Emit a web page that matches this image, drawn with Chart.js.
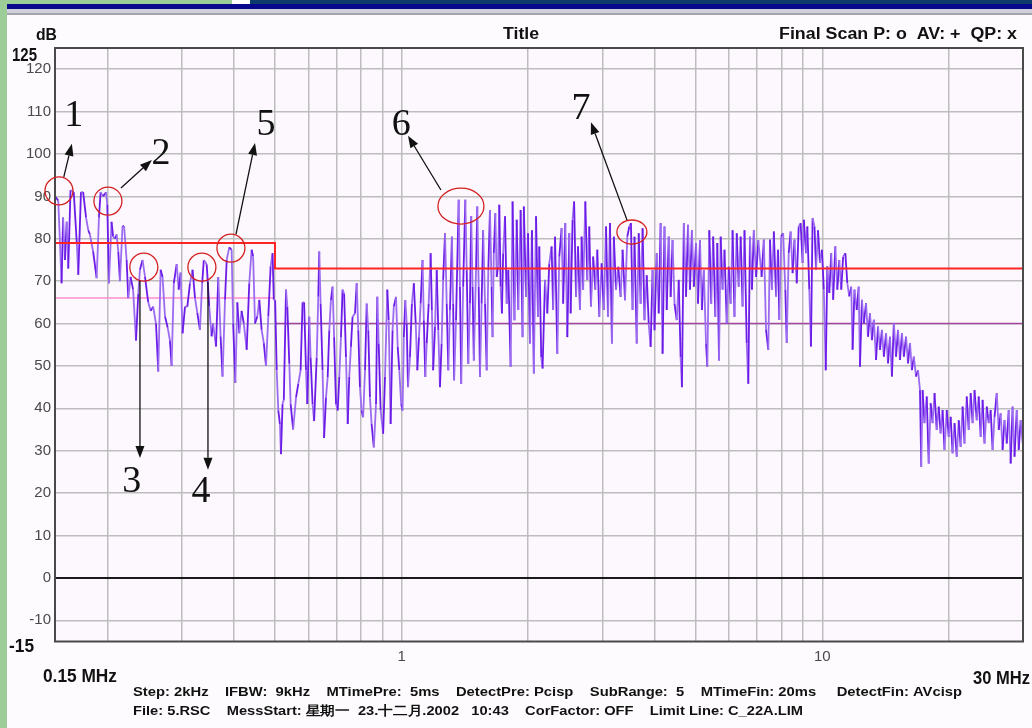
<!DOCTYPE html>
<html>
<head>
<meta charset="utf-8">
<title>Final Scan</title>
<script src="https://cdn.jsdelivr.net/npm/chart.js@4/dist/chart.umd.min.js"></script>
<style>
  html, body { margin: 0; padding: 0; background: #fdfbfd; }
  #scan { display: block; }
</style>
</head>
<body>
<canvas id="scan" width="1032" height="728"></canvas>
<script>
const freqBand1 = [0.1500,0.1527,0.1555,0.1568,0.1584,0.1599,0.1613,0.1633,0.1662,0.1690,0.1704,0.1729,0.1750,0.1778,0.1800,0.1816,0.1848,0.1884,0.1908,0.1925,
  0.1952,0.1983,0.1997,0.2015,0.2044,0.2062,0.2083,0.2102,0.2121,0.2140,0.2171,0.2189,0.2220,0.2240,0.2269,0.2300,0.2337,0.2366,0.2388,0.2422,
  0.2455,0.2499,0.2532,0.2567,0.2607,0.2640,0.2674,0.2702,0.2739,0.2780,0.2814,0.2840,0.2874,0.2920,0.2952,0.2983,0.3015,0.3056,0.3095,0.3140,
  0.3185,0.3228,0.3269,0.3316,0.3357,0.3387,0.3441,0.3489,0.3534,0.3564,0.3621,0.3666,0.3713,0.3753,0.3804,0.3839,0.3894,0.3944,0.3977,0.4025,
  0.4069,0.4113,0.4165,0.4216,0.4283,0.4344,0.4400,0.4437,0.4483,0.4540,0.4589,0.4648,0.4704,0.4761,0.4821,0.4883,0.4935,0.4968];
const levelBand1 = [90,89,69.5,85,75,84,73,91.5,91,79,71.5,91,91,85,82,81,77,70.7,85,91,
  90,91,88,69.5,84,80.5,80,81,77,70,83,83,75,66,71,68,56,67,72.7,75,
  71,65,63,64,60,48.7,72.7,71,61.7,59,56,50,69.5,74,68,72,57.7,64,64,69.5,
  72.7,66,62.5,58.5,69.5,75,74,64,57,60,54.6,71,57,47.5,65.6,75,78,77.4,60,46,
  65,57.7,63,60,53.8,69.5,77.4,75.8,60,61.7,65.6,58.5,55.4,50,61.7,73.5,76.6,65.6];

const freqBand2 = [0.5005,0.5048,0.5092,0.5138,0.5166,0.5212,0.5248,0.5312,0.5350,0.5408,0.5448,0.5523,0.5611,0.5681,0.5754,0.5815,0.5865,0.5926,0.5968,0.6033,
  0.6078,0.6143,0.6195,0.6283,0.6338,0.6372,0.6419,0.6488,0.6542,0.6612,0.6673,0.6731,0.6792,0.6854,0.6911,0.6984,0.7049,0.7110,0.7175,0.7239,
  0.7300,0.7376,0.7445,0.7509,0.7577,0.7646,0.7749,0.7821,0.7889,0.7961,0.8033,0.8102,0.8185,0.8261,0.8333,0.8409,0.8485,0.8589,0.8694,0.8755,
  0.8822,0.8916,0.9039,0.9132,0.9247,0.9317,0.9417,0.9517,0.9582,0.9699,0.9789,0.9874,0.9979,1.0053,1.0122,1.0205,1.0284,1.0356,1.0468,1.0580,
  1.0691,1.0803,1.0898,1.0998,1.1098,1.1216,1.1293,1.1385,1.1473,1.1598,1.1722,1.1803,1.1884,1.2007,1.2119,1.2224,1.2336,1.2448,1.2553,1.2683,
  1.2801,1.2913,1.3031,1.3170,1.3260,1.3330,1.3470,1.3668,1.3763,1.3858,1.4006,1.4173,1.4282,1.4406,1.4538,1.4638,1.4747,1.4848,1.5028,1.5134,
  1.5249,1.5355,1.5495,1.5626,1.5787,1.5934,1.6073,1.6220,1.6366,1.6453,1.6565,1.6702,1.6830,1.6948,1.7069,1.7195,1.7315,1.7434,1.7613,1.7777,
  1.7932];
const levelBand2 = [65.5,49,39.5,36.3,29.2,41,42,68,64,50.5,41,35,42.6,45.8,49,65,65,49,41,61.6,
  52,41,37,52,66.3,77,64.7,49,33,42.6,47.4,58.4,65.5,68.7,56.8,41,39.5,47.4,56.8,68,
  67,52,36.3,47.4,54.5,61.6,62.4,69.5,58.4,45,39.5,37.9,49,64.7,58.4,42.6,36.3,30.8,41,66.3,
  55.3,39.5,34,47.4,68,60.8,36.3,58.4,64,66.3,54.5,49,41,39.5,56.8,65.5,60,45,52,64.7,
  69.5,60,49,56.8,64.7,75,60.8,47.4,55.3,64.7,76.6,63.2,49,59.2,72.6,58.4,45,55.3,70.3,81.3,
  64.7,49,63.2,80.5,64.7,46.6,60.8,89.2,68.7,45.8,68.7,89.2,72.6,50.5,64.7,85.3,68.7,51.3,72.6,87.6,
  68.7,47.4,64.7,82,64.7,49,72.6,86.8,68.7,56.8,76.6,86,71,73.4,88,68.7,62.4,76.6,85.3,64.7,
  72.6];

const freqBand3 = [1.8163,1.8356,1.8550,1.8777,1.8941,1.9184,1.9389,1.9521,1.9759,1.9973,2.0189,2.0406,2.0620,2.0871,2.1097,2.1247,2.1473,2.1633,2.1924,2.2200,
  2.2441,2.2729,2.2922,2.3158,2.3450,2.3705,2.4008,2.4212,2.4500,2.4769,2.5038,2.5224,2.5493,2.5709,2.5979,2.6261,2.6545,2.6785,2.7013,2.7335,
  2.7635,2.7935,2.8189,2.8533,2.8872,2.9189,2.9506,2.9884,3.0247,3.0615,3.0947,3.1282,3.1617,3.1949,3.2338,3.2743,3.3164,3.3518,3.3971,3.4399,
  3.4773,3.5089,3.5405,3.5778,3.6216,3.6610,3.7002,3.7396,3.7791,3.8253,3.8670,3.9083,3.9500,3.9917,4.0405,4.0846,4.1282,4.1722,4.2163,4.2679,
  4.3144,4.3605,4.4070,4.4536,4.5080,4.5572,4.6059,4.6380,4.6867,4.7437,4.7952,4.8471,4.8990,4.9504,5.0106,5.0649,5.1197,5.1746,5.2289,5.2926,
  5.3299,5.3878,5.4452,5.5031,5.5686,5.6298,5.6815,5.7332,5.7943,5.8555,5.9271,5.9917,6.0557,6.1203,6.1849,6.2606,6.3288,6.3964,6.4647,6.5329,
  6.6128,6.6705,6.7314,6.8035,6.8749,6.9587,7.0459];
const levelBand3 = [49.8,88.8,60.8,84.5,63.2,86.8,56.8,87.6,66.3,81.3,55.3,82,48.2,85.3,61.6,78.2,52,49.4,70.3,62.4,
  74.2,78.2,63.2,80.5,52.9,75.8,82.5,64.7,83.7,56.8,81.3,62.4,84.5,88.8,66.3,78.2,63.2,80.5,68,88.8,
  70.3,82.9,64,75.8,68,77.4,61.6,74.2,63.2,82.9,61.6,83.7,55.3,80.5,68,73.4,66.3,77.4,65.5,80.5,
  82.9,83.7,63.2,80.5,55.3,81.3,64.7,82.5,60.8,71.4,60,54.5,72.6,58.4,76.6,62.4,83.7,52.9,82.9,63.2,
  80.5,66.3,79.7,64.7,60.8,70.3,52,45,83.7,66.3,83.3,68,82,68.7,79,64.7,79.7,63.2,72.6,55.3,
  49.8,82,64.7,80.5,61.6,79,51.3,80.5,68,77.4,60,73.4,64.7,82,61.6,81.3,68.7,80.5,64,82,
  55.3,45.8,80.5,68,82,71,79.7];

const freqBand4 = [7.1746,7.2618,7.3501,7.4422,7.5102,7.5906,7.6703,7.7637,7.8478,7.9034,7.9876,8.0725,8.1686,8.2315,8.3212,8.4100,8.4998,8.5895,8.6946,8.7894,
  8.8833,8.9780,9.0392,9.1491,9.2138,9.3138,9.3985,9.4831,9.5832,9.6640,9.7687,9.8744,9.9802,10.085,10.191,10.280,10.392,10.502,10.614,10.740,
  10.858,10.976,11.093,11.211,11.344,11.469,11.593,11.717,11.804,11.929,12.074,12.206,12.291,12.422,12.553,12.707,12.844,12.983,13.122,13.260,
  13.421,13.567,13.714,13.861,14.006,14.177,14.330,14.485,14.640,14.794,14.974,15.136,15.300,15.464,15.626,15.817,15.988,16.161,16.334,16.505,
  16.706,16.887,17.070,17.188,17.316,17.499,17.713,17.906,18.098,18.291,18.484,18.709,18.913,19.115,19.319,19.523,19.762,19.977,20.191,20.406,
  20.622,20.874,21.102,21.327,21.555,21.782,22.048,22.288,22.527,22.767,23.007,23.289,23.542,23.794,24.048,24.302,24.600,24.868,25.133,25.402,
  25.670,25.983,26.267,26.547,26.830,27.114,27.445,27.744,28.040,28.340,28.639,28.989,29.305,29.618,29.95];
const levelBand4 = [71,79.8,58.5,53.8,79.8,68,81.7,66.4,77.4,60.9,80.6,81.3,68,55.4,76.6,81.7,71.9,79.8,69.5,82.9,
  83.7,74.3,84.5,76.6,82.9,68,54.6,84.9,82.9,72.7,82,74.3,77.4,68,49,73.5,67.2,76.6,65.6,78.2,
  68,75,68,75.8,76.6,69.5,66.4,68.7,53.8,68,63.2,68.7,49.8,65.6,60.1,64.8,56.9,62.4,56.1,60.9,
  51.4,59.3,53.8,58.5,52.2,57.7,50.6,56.9,47.5,60.1,52.2,58.5,51.4,57.7,52.2,56.9,50.6,55.4,49,52.2,
  47.5,49,44.3,26.2,44.3,36.5,42.8,27,41.2,36.5,43.6,34.9,40.4,34.1,39.6,30.2,39.6,33.3,38,29.4,
  36.5,28.6,37.2,30.9,40.4,31.7,42.8,34.9,43.6,36.5,44.3,37.2,42.8,33.3,42,31.7,40.4,36.5,39.6,30.2,
  38,43.6,34.9,38.8,30.2,37.2,31.7,39.6,27,40.4,28.6,39.6,30.2,37.2,31.7];

// ---- limit lines (C_22A.LIM) ----
const qpLimitFreq = [0.15, 0.5, 0.5, 30];
const qpLimitDb = [79, 79, 73, 73];
const avLimitLowFreq = [0.15, 0.5];
const avLimitLowDb = [66, 66];
const avLimitHighFreq = [0.5, 30];
const avLimitHighDb = [60, 60];
const zeroFreq = [0.15, 30];
const zeroDb = [0, 0];

// ---- axes ----
const yTickValues = [-10, 0, 10, 20, 30, 40, 50, 60, 70, 80, 90, 100, 110, 120];
const xGridFreqs = [0.2, 0.3, 0.4, 0.5, 0.6, 0.7, 0.8, 0.9, 1, 2, 3, 4, 5, 6, 7, 8, 9, 10, 20];
const xLabelledFreqs = [1, 10];

// ---- hand annotations (MHz / dB) ----
const markCircles = [
  { f: 0.1533, db: 91.3, rx: 14, ry: 14 },
  { f: 0.2004, db: 88.9, rx: 14, ry: 14 },
  { f: 0.2439, db: 73.3, rx: 14, ry: 14 },
  { f: 0.3352, db: 73.3, rx: 14, ry: 14 },
  { f: 0.3929, db: 77.8, rx: 14, ry: 14 },
  { f: 1.3837, db: 87.7, rx: 23, ry: 18 },
  { f: 3.5275, db: 81.6, rx: 15, ry: 12 }
];
const markArrows = [
  { f0: 0.1574, db0: 94.6, f1: 0.1645, db1: 102.4 },
  { f0: 0.2152, db0: 92.0, f1: 0.2549, db1: 98.6 },
  { f0: 0.2388, db0: 70.1, f1: 0.2388, db1: 28.3 },
  { f0: 0.3465, db0: 69.8, f1: 0.3465, db1: 25.5 },
  { f0: 0.4040, db0: 81.1, f1: 0.4483, db1: 102.6 },
  { f0: 1.2402, db0: 91.5, f1: 1.0356, db1: 104.3 },
  { f0: 3.4345, db0: 84.4, f1: 2.8189, db1: 107.5 }
];
const markLabels = ['1', '2', '3', '4', '5', '6', '7'];
const markLabelFreq = [0.1662, 0.2678, 0.2284, 0.3334, 0.4761, 0.9979, 2.6687];
const markLabelDb = [109.4, 100.5, 23.1, 20.8, 107.3, 107.3, 111.1];

const pageBg = '#fdfbfd';
const plotBg = '#fdf8fd';
const narrow = "'Liberation Sans Narrow', 'Arial Narrow', 'Liberation Sans', Arial, sans-serif";

function toPoints(xs, ys) {
  const n = Math.min(xs.length, ys.length);
  const out = [];
  for (let i = 0; i < n; i++) out.push({ x: xs[i], y: ys[i] });
  return out;
}

const tracePoints = []
  .concat(toPoints(freqBand1, levelBand1))
  .concat(toPoints(freqBand2, levelBand2))
  .concat(toPoints(freqBand3, levelBand3))
  .concat(toPoints(freqBand4, levelBand4));

// text squeezed/stretched to the width it has in the scan
function fitText(ctx, text, left, baseline, width, font, color) {
  ctx.save();
  ctx.font = font;
  const w = ctx.measureText(text).width || 1;
  ctx.translate(left, baseline);
  ctx.scale(width / w, 1);
  ctx.fillStyle = color;
  ctx.textAlign = 'left';
  ctx.textBaseline = 'alphabetic';
  ctx.fillText(text, 0, 0);
  ctx.restore();
}

function arrow(ctx, x0, y0, x1, y1) {
  const ang = Math.atan2(y1 - y0, x1 - x0);
  const len = 12, half = 4.5;
  const bx = x1 - Math.cos(ang) * len, by = y1 - Math.sin(ang) * len;
  ctx.beginPath();
  ctx.moveTo(x0, y0);
  ctx.lineTo(bx, by);
  ctx.stroke();
  ctx.beginPath();
  ctx.moveTo(x1, y1);
  ctx.lineTo(bx + Math.sin(ang) * half, by - Math.cos(ang) * half);
  ctx.lineTo(bx - Math.sin(ang) * half, by + Math.cos(ang) * half);
  ctx.closePath();
  ctx.fill();
}

const scanFrame = {
  id: 'scanFrame',
  beforeDraw(chart) {
    const { ctx, chartArea: a, width, height } = chart;
    ctx.save();
    ctx.fillStyle = pageBg;
    ctx.fillRect(0, 0, width, height);
    // slide frame: green margin and window bar
    ctx.fillStyle = '#9ccc98';
    ctx.fillRect(0, 0, 7, height);
    ctx.fillRect(0, 0, 232, 4);
    ctx.fillStyle = '#ffffff';
    ctx.fillRect(232, 0, 18, 4);
    ctx.fillStyle = '#0d3b6c';
    ctx.fillRect(250, 0, width - 250, 4);
    ctx.fillStyle = '#08088c';
    ctx.fillRect(7, 4, width - 7, 5);
    ctx.fillStyle = '#d0d0da';
    ctx.fillRect(7, 9, width - 7, 4);
    ctx.fillStyle = '#a4a4b0';
    ctx.fillRect(7, 13, width - 7, 2);
    ctx.fillStyle = plotBg;
    ctx.fillRect(a.left, a.top, a.right - a.left, a.bottom - a.top);
    ctx.restore();
  },
  afterDraw(chart) {
    const { ctx, chartArea: a } = chart;
    const xs = chart.scales.x, ys = chart.scales.y;
    ctx.save();
    ctx.strokeStyle = '#4a4a4a';
    ctx.lineWidth = 2;
    ctx.strokeRect(a.left, a.top, a.right - a.left, a.bottom - a.top);

    const bold = (px) => 'bold ' + px + 'px ' + narrow;
    fitText(ctx, 'dB', 36, 40, 21, bold(17), '#111');
    fitText(ctx, '125', 12, 61, 25, bold(18), '#111');
    fitText(ctx, '-15', 9, 652, 25, bold(18), '#111');
    fitText(ctx, 'Title', 503, 39, 36, bold(16), '#111');
    fitText(ctx, 'Final Scan P: o  AV: +  QP: x', 779, 39, 238, bold(16), '#111');
    fitText(ctx, '0.15 MHz', 43, 682, 74, bold(18), '#111');
    fitText(ctx, '30 MHz', 973, 684, 57, bold(18), '#111');
    fitText(ctx, 'Step: 2kHz    IFBW:  9kHz    MTimePre:  5ms    DetectPre: Pcisp    SubRange:  5    MTimeFin: 20ms     DetectFin: AVcisp',
      133, 696, 829, bold(13), '#111');
    fitText(ctx, 'File: 5.RSC    MessStart: 星期一  23.十二月.2002   10:43    CorFactor: OFF    Limit Line: C_22A.LIM',
      133, 715, 670, bold(13), '#111');

    // red circles
    ctx.strokeStyle = '#d42020';
    ctx.lineWidth = 1.3;
    markCircles.forEach(c => {
      ctx.beginPath();
      ctx.ellipse(xs.getPixelForValue(c.f), ys.getPixelForValue(c.db), c.rx, c.ry, 0, 0, Math.PI * 2);
      ctx.stroke();
    });

    // arrows
    ctx.strokeStyle = '#111';
    ctx.fillStyle = '#111';
    ctx.lineWidth = 1.3;
    markArrows.forEach(m => {
      arrow(ctx, xs.getPixelForValue(m.f0), ys.getPixelForValue(m.db0),
        xs.getPixelForValue(m.f1), ys.getPixelForValue(m.db1));
    });

    // numbers
    ctx.font = "38px 'Liberation Serif', 'DejaVu Serif', serif";
    ctx.textAlign = 'center';
    ctx.textBaseline = 'middle';
    markLabels.forEach((t, i) => {
      ctx.fillText(t, xs.getPixelForValue(markLabelFreq[i]), ys.getPixelForValue(markLabelDb[i]) + 2);
    });
    ctx.restore();
  }
};

new Chart(document.getElementById('scan'), {
  type: 'line',
  data: {
    datasets: [
      {
        label: 'QP limit',
        data: toPoints(qpLimitFreq, qpLimitDb),
        borderColor: '#ff2424',
        borderWidth: 2,
        pointRadius: 0
      },
      {
        label: 'Scan',
        data: tracePoints,
        borderWidth: 1.8,
        pointRadius: 0,
        borderColor: '#7024ea',
        segment: {
          borderColor: c => (c.p0DataIndex % 2 ? '#9c6cf0' : '#6c1ce8')
        }
      },
      {
        label: 'AV limit 0.15-0.5',
        data: toPoints(avLimitLowFreq, avLimitLowDb),
        borderColor: '#ff8fcf',
        borderWidth: 1.5,
        pointRadius: 0
      },
      {
        label: 'AV limit 0.5-30',
        data: toPoints(avLimitHighFreq, avLimitHighDb),
        borderColor: '#a2469e',
        borderWidth: 1.5,
        pointRadius: 0
      },
      {
        label: '0 dB',
        data: toPoints(zeroFreq, zeroDb),
        borderColor: '#1a1a1a',
        borderWidth: 2,
        pointRadius: 0
      }
    ]
  },
  options: {
    responsive: false,
    animation: false,
    devicePixelRatio: 1,
    events: [],
    layout: { padding: { top: 48, right: 9, bottom: 66.5, left: 0 } },
    plugins: {
      legend: { display: false },
      tooltip: { enabled: false }
    },
    scales: {
      x: {
        type: 'logarithmic',
        min: 0.15,
        max: 30,
        afterBuildTicks: s => { s.ticks = xGridFreqs.map(v => ({ value: v })); },
        afterFit: s => { s.height = 20; },
        ticks: {
          autoSkip: false,
          maxRotation: 0,
          padding: 6,
          color: '#4a4a4a',
          font: { family: narrow, size: 15 },
          callback: v => (xLabelledFreqs.includes(v) ? String(v) : '')
        },
        grid: { color: '#bdbdbd', lineWidth: 1.5, drawTicks: false },
        border: { display: false }
      },
      y: {
        min: -15,
        max: 125,
        afterBuildTicks: s => { s.ticks = yTickValues.map(v => ({ value: v })); },
        afterFit: s => { s.width = 55; },
        ticks: {
          padding: 4,
          color: '#4a4a4a',
          font: { family: narrow, size: 15 }
        },
        grid: { color: '#bdbdbd', lineWidth: 1.5, drawTicks: false },
        border: { display: false }
      }
    }
  },
  plugins: [scanFrame]
});
</script>
</body>
</html>
